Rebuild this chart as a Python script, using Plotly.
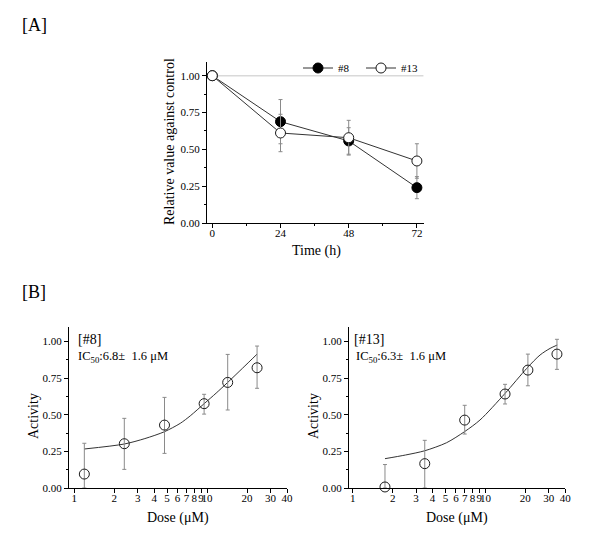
import plotly.graph_objects as go

# ---------------- data ----------------
# Panel A
time_h = [0, 24, 48, 72]
rel_8 = [1.00, 0.688, 0.557, 0.240]
rel_8_err = [0.0, 0.150, 0.090, 0.075]
rel_13 = [1.00, 0.611, 0.579, 0.421]
rel_13_err = [0.0, 0.127, 0.118, 0.117]
ref_level = 1.0

# Panel B left (#8)
dose_8 = [1.19, 2.38, 4.78, 9.5, 14.3, 23.8]
act_8 = [0.095, 0.302, 0.429, 0.575, 0.720, 0.820]
act_8_eplus = [0.210, 0.173, 0.189, 0.064, 0.191, 0.148]
act_8_eminus = [0.095, 0.175, 0.193, 0.071, 0.188, 0.140]
fit_8_x = [1.19, 2.38, 3.4, 4.78, 6.28, 7.47, 9.5, 11.7, 14.3, 18.5, 23.8]
fit_8_y = [0.266, 0.300, 0.337, 0.384, 0.441, 0.492, 0.575, 0.647, 0.720, 0.817, 0.913]

# Panel B right (#13)
dose_13 = [1.75, 3.49, 6.98, 14.06, 20.9, 34.6]
act_13 = [0.007, 0.166, 0.463, 0.641, 0.804, 0.913]
act_13_eplus = [0.153, 0.159, 0.101, 0.066, 0.109, 0.101]
act_13_eminus = [0.007, 0.166, 0.095, 0.068, 0.107, 0.104]
fit_13_x = [1.75, 2.5, 3.49, 5.1, 6.98, 9.1, 14.06, 20.5, 25.8, 30.7, 34.8]
fit_13_y = [0.200, 0.225, 0.254, 0.309, 0.385, 0.4635, 0.645, 0.816, 0.907, 0.952, 0.975]

y_ticks = [0.0, 0.25, 0.5, 0.75, 1.0]
y_ticktext = ["0.00", "0.25", "0.50", "0.75", "1.00"]
t_ticks = [0, 24, 48, 72]
dose_ticks = [1, 2, 3, 4, 5, 6, 7, 8, 9, 10, 20, 30, 40]
dose_ticktext = [str(v) for v in dose_ticks]

# ---------------- style ----------------
FONT = "Liberation Serif"
OFF = 8            # default body margin of the page
W, H = 592, 542    # figure size so that it fits in the 600x550 window
LINE_C = "#333333"
ERR_C = "#8a8a8a"
MK_LINE = "#1a1a1a"


def px_x(p):
    return (p - OFF) / W


def px_y(p):
    return 1 - (p - OFF) / H


fig = go.Figure()

# reference line at 1.0 in panel A
fig.add_trace(go.Scatter(
    x=[time_h[0], 74.3], y=[ref_level, ref_level], mode="lines",
    line=dict(color="#d9d9d9", width=1.5), showlegend=False, hoverinfo="skip",
    xaxis="x", yaxis="y"))

fig.add_trace(go.Scatter(
    x=time_h, y=rel_8, mode="lines+markers", name="#8",
    line=dict(color=LINE_C, width=1),
    marker=dict(symbol="circle", size=10, color="black", line=dict(color="black", width=1)),
    error_y=dict(type="data", array=rel_8_err, color=ERR_C, thickness=1, width=2),
    xaxis="x", yaxis="y", cliponaxis=False))

fig.add_trace(go.Scatter(
    x=time_h, y=rel_13, mode="lines+markers", name="#13",
    line=dict(color=LINE_C, width=1),
    marker=dict(symbol="circle", size=10, color="white", line=dict(color=MK_LINE, width=1)),
    error_y=dict(type="data", array=rel_13_err, color=ERR_C, thickness=1, width=2),
    xaxis="x", yaxis="y", cliponaxis=False))

# Panel B left
fig.add_trace(go.Scatter(
    x=fit_8_x, y=fit_8_y, mode="lines", line=dict(color=LINE_C, width=1, shape="spline", smoothing=0.8),
    showlegend=False, xaxis="x2", yaxis="y2"))
fig.add_trace(go.Scatter(
    x=dose_8, y=act_8, mode="markers", showlegend=False,
    marker=dict(symbol="circle", size=10, color="rgba(255,255,255,0)", line=dict(color=MK_LINE, width=1)),
    error_y=dict(type="data", symmetric=False, array=act_8_eplus, arrayminus=act_8_eminus,
                 color=ERR_C, thickness=1, width=2),
    xaxis="x2", yaxis="y2", cliponaxis=False))

# Panel B right
fig.add_trace(go.Scatter(
    x=fit_13_x, y=fit_13_y, mode="lines", line=dict(color=LINE_C, width=1, shape="spline", smoothing=0.8),
    showlegend=False, xaxis="x3", yaxis="y3"))
fig.add_trace(go.Scatter(
    x=dose_13, y=act_13, mode="markers", showlegend=False,
    marker=dict(symbol="circle", size=10, color="rgba(255,255,255,0)", line=dict(color=MK_LINE, width=1)),
    error_y=dict(type="data", symmetric=False, array=act_13_eplus, arrayminus=act_13_eminus,
                 color=ERR_C, thickness=1, width=2),
    xaxis="x3", yaxis="y3", cliponaxis=False))

axis_common = dict(showline=True, linecolor="black", linewidth=1, ticks="outside",
                   ticklen=4, tickcolor="black", tickwidth=1, showgrid=False, zeroline=False,
                   tickangle=0,
                   tickfont=dict(family=FONT, size=11, color="black"), automargin=False)

xaxis_common = dict(axis_common, ticklabelstandoff=-4)

yaxis_common = dict(axis_common, tickvals=y_ticks, ticktext=y_ticktext,
                    minor=dict(ticks="outside", ticklen=2, tickcolor="black", dtick=0.125, tick0=0))

fig.update_layout(
    width=W, height=H,
    margin=dict(l=0, r=0, t=0, b=0),
    paper_bgcolor="white", plot_bgcolor="rgba(0,0,0,0)",
    font=dict(family=FONT, color="black"),
    showlegend=True,
    legend=dict(orientation="h", x=px_x(424), xanchor="right", y=px_y(68), yanchor="middle",
                bgcolor="rgba(0,0,0,0)", font=dict(family=FONT, size=11, color="black"),
                itemwidth=30, tracegroupgap=0, entrywidth=18, entrywidthmode="pixels"),
    xaxis=dict(xaxis_common, domain=[px_x(207), px_x(424)], range=[-1.87, 74.5],
               tickvals=t_ticks, anchor="y",
               minor=dict(ticks="outside", ticklen=2, tickcolor="black", dtick=12, tick0=0)),
    yaxis=dict(yaxis_common, domain=[px_y(223), px_y(61.7)], range=[0, 1.095], anchor="x"),
    xaxis2=dict(xaxis_common, type="log", domain=[px_x(69), px_x(287)], range=[-0.04, 1.602],
                tickvals=dose_ticks, ticktext=dose_ticktext, anchor="y2"),
    yaxis2=dict(yaxis_common, domain=[px_y(488), px_y(326.7)], range=[0, 1.10], anchor="x2"),
    xaxis3=dict(xaxis_common, type="log", domain=[px_x(349), px_x(565.3)], range=[-0.028, 1.602],
                tickvals=dose_ticks, ticktext=dose_ticktext, anchor="y3"),
    yaxis3=dict(yaxis_common, domain=[px_y(488), px_y(326.7)], range=[0, 1.10], anchor="x3"),
)

ann = [
    dict(text="[A]", x=px_x(20), y=px_y(25), xanchor="left", yanchor="middle", font=dict(size=18)),
    dict(text="[B]", x=px_x(20), y=px_y(292), xanchor="left", yanchor="middle", font=dict(size=18)),
    dict(text="Relative value against control", x=px_x(169), y=px_y(142), textangle=-90,
         xanchor="center", yanchor="middle", font=dict(size=14)),
    dict(text="Time (h)", x=px_x(316), y=px_y(251), xanchor="center", yanchor="middle", font=dict(size=14)),
    dict(text="Activity", x=px_x(33), y=px_y(416), textangle=-90, xanchor="center", yanchor="middle",
         font=dict(size=14)),
    dict(text="Activity", x=px_x(313), y=px_y(416), textangle=-90, xanchor="center", yanchor="middle",
         font=dict(size=14)),
    dict(text="Dose (μM)", x=px_x(178), y=px_y(518), xanchor="center", yanchor="middle", font=dict(size=14)),
    dict(text="Dose (μM)", x=px_x(457), y=px_y(518), xanchor="center", yanchor="middle", font=dict(size=14)),
    dict(text="[#8]", x=px_x(76), y=px_y(339), xanchor="left", yanchor="middle", font=dict(size=14)),
    dict(text="IC<sub>50</sub>:6.8±  1.6 μM", x=px_x(76), y=px_y(357), xanchor="left", yanchor="middle",
         font=dict(size=12.5)),
    dict(text="[#13]", x=px_x(352), y=px_y(339), xanchor="left", yanchor="middle", font=dict(size=14)),
    dict(text="IC<sub>50</sub>:6.3±  1.6 μM", x=px_x(354), y=px_y(357), xanchor="left", yanchor="middle",
         font=dict(size=12.5)),
]
for a in ann:
    a.update(xref="paper", yref="paper", showarrow=False)
    a["font"] = dict(family=FONT, color="black", **a["font"])
fig.update_layout(annotations=ann)

fig.write_html("out.html")
